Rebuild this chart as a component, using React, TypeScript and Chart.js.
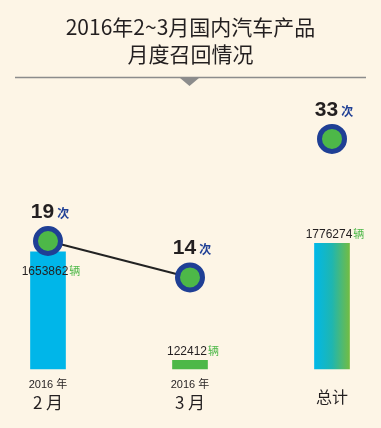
import React, { useEffect, useRef } from "react";
import { Chart, registerables } from "chart.js";

Chart.register(...registerables);

const titleLines = ["2016年2~3月国内汽车产品", "月度召回情况"];
const categories = ["2016年2月", "2016年3月", "总计"];
const yearLabels = ["2016 年", "2016 年", ""];
const monthLabels = ["2 月", "3 月", "总计"];
const vehicles = [1653862, 122412, 1776274];
const recalls = [19, 14, 33];
const vehicleUnit = "辆";
const recallUnit = "次";

const BG = "#fdf5e6";
const TEXT = "#231f20";
const CYAN = "#00b6e9";
const GREEN = "#4db848";
const BLUE = "#1f3f95";
const LATIN = '"Liberation Sans", "Noto Sans CJK SC", sans-serif';
const CJK = '"Noto Sans CJK SC", "Liberation Sans", sans-serif';

const decorPlugin = {
  id: "decor",
  beforeDraw(chart: any) {
    const { ctx, width, height } = chart;
    ctx.save();
    ctx.fillStyle = BG;
    ctx.fillRect(0, 0, width, height);
    // title
    ctx.fillStyle = TEXT;
    ctx.textAlign = "center";
    ctx.textBaseline = "alphabetic";
    ctx.font = `21px ${CJK}`;
    ctx.fillText(titleLines[0], width / 2, 35);
    ctx.fillText(titleLines[1], width / 2, 62);
    // rule + triangle
    ctx.strokeStyle = "#8c8c8c";
    ctx.lineWidth = 1.5;
    ctx.beginPath();
    ctx.moveTo(15, 77.5);
    ctx.lineTo(366, 77.5);
    ctx.stroke();
    ctx.fillStyle = "#8c8c8c";
    ctx.beginPath();
    ctx.moveTo(180, 78);
    ctx.lineTo(199, 78);
    ctx.lineTo(189.5, 86);
    ctx.closePath();
    ctx.fill();
    ctx.restore();
  },
  afterDatasetsDraw(chart: any) {
    const { ctx } = chart;
    const bars = chart.getDatasetMeta(0).data;
    const pts = chart.getDatasetMeta(1).data;
    ctx.save();
    ctx.textBaseline = "alphabetic";
    ctx.textAlign = "left";

    const drawPair = (
      num: string,
      unit: string,
      cx: number,
      baseline: number,
      numFont: string,
      unitFont: string,
      unitColor: string,
      gap: number
    ) => {
      ctx.font = numFont;
      const w1 = ctx.measureText(num).width;
      ctx.font = unitFont;
      const w2 = ctx.measureText(unit).width;
      const x0 = cx - (w1 + gap + w2) / 2;
      ctx.font = numFont;
      ctx.fillStyle = TEXT;
      ctx.fillText(num, x0, baseline);
      ctx.font = unitFont;
      ctx.fillStyle = unitColor;
      ctx.fillText(unit, x0 + w1 + gap, baseline);
    };

    // bar value labels
    bars.forEach((b: any, i: number) => {
      let base = b.y - 5;
      const p = pts[i];
      if (p && base - 9 < p.y + 16 && base > p.y - 16) base = p.y + 34;
      drawPair(
        String(vehicles[i]),
        vehicleUnit,
        b.x + 3,
        base,
        `12px ${LATIN}`,
        `11px ${CJK}`,
        GREEN,
        1
      );
    });

    // point labels
    pts.forEach((p: any, i: number) => {
      drawPair(
        String(recalls[i]),
        recallUnit,
        p.x + 2,
        p.y - 23,
        `bold 21px ${LATIN}`,
        `bold 12px ${CJK}`,
        BLUE,
        3
      );
    });

    // category labels
    ctx.textAlign = "center";
    ctx.fillStyle = TEXT;
    bars.forEach((b: any, i: number) => {
      if (yearLabels[i]) {
        ctx.font = `11px ${LATIN}`;
        ctx.fillText(yearLabels[i], b.x, 388);
        ctx.font = `17px ${CJK}`;
        ctx.fillText(monthLabels[i], b.x, 409);
      } else {
        ctx.font = `16px ${CJK}`;
        ctx.fillText(monthLabels[i], b.x, 403);
      }
    });
    ctx.restore();
  },
};

export default function App() {
  const ref = useRef<HTMLCanvasElement>(null);
  useEffect(() => {
    document.body.style.margin = "0";
    document.body.style.background = BG;
    const canvas = ref.current!;
    const chart = new Chart(canvas, {
      data: {
        labels: categories,
        datasets: [
          {
            type: "bar",
            data: vehicles,
            yAxisID: "yb",
            order: 2,
            clip: false,
            barThickness: 35,
            backgroundColor: (c: any) => {
              const i = c.dataIndex;
              if (i === 0) return CYAN;
              if (i === 1) return GREEN;
              const ch = c.chart;
              const xs = ch.scales && ch.scales.x;
              if (!xs || !ch.chartArea) return CYAN;
              const cx = xs.getPixelForValue(i);
              const g = ch.ctx.createLinearGradient(cx - 17.5, 0, cx + 17.5, 0);
              g.addColorStop(0, "#00b8e8");
              g.addColorStop(0.5, "#1fb6b0");
              g.addColorStop(1, "#72bc44");
              return g;
            },
            borderWidth: 0,
          } as any,
          {
            type: "line",
            data: recalls,
            yAxisID: "yp",
            order: 1,
            clip: false,
            borderColor: "#222222",
            borderWidth: 2,
            segment: {
              borderColor: (c: any) => (c.p0DataIndex === 1 ? "rgba(0,0,0,0)" : "#222222"),
            },
            pointRadius: 12.5,
            pointBorderWidth: 5,
            pointBackgroundColor: GREEN,
            pointBorderColor: BLUE,
            fill: false,
          } as any,
        ],
      },
      options: {
        responsive: false,
        animation: false,
        devicePixelRatio: 1,
        layout: { padding: { top: 100, bottom: 59, left: 48, right: 49 } },
        plugins: {
          legend: { display: false },
          tooltip: { enabled: false },
          title: { display: false },
        },
        scales: {
          x: { type: "category", offset: false, display: false, grid: { display: false } },
          yb: { type: "linear", min: 0, max: 3800000, display: false },
          yp: { type: "linear", min: 1.44, max: 38.34, display: false },
        },
      },
      plugins: [decorPlugin],
    } as any);
    return () => chart.destroy();
  }, []);
  return (
    <div style={{ width: 381, height: 428 }}>
      <canvas ref={ref} width={381} height={428} style={{ display: "block" }} />
    </div>
  );
}
